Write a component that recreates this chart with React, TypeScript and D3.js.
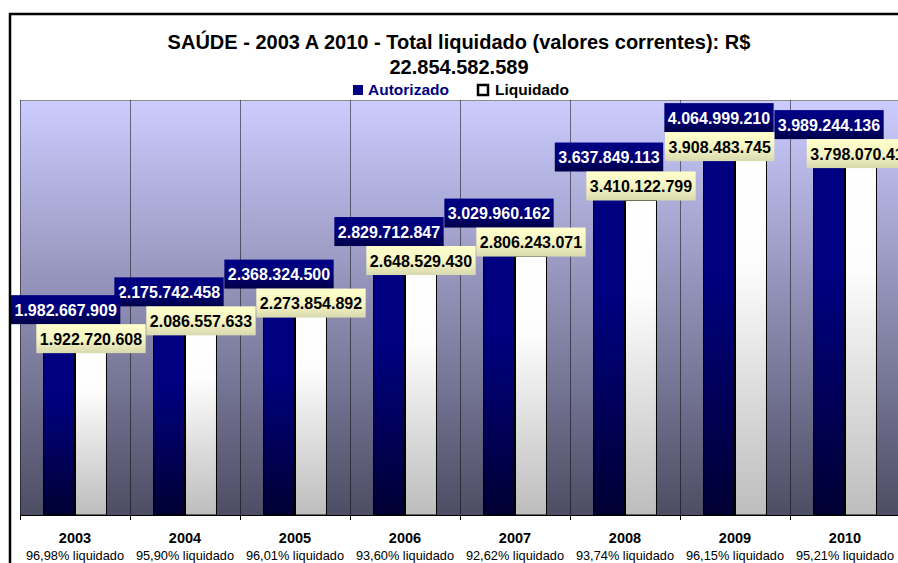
import React from "react";
import * as d3 from "d3";

const years = ["2003", "2004", "2005", "2006", "2007", "2008", "2009", "2010"];
const autorizado = [1982667909, 2175742458, 2368324500, 2829712847, 3029960162, 3637849113, 4064999210, 3989244136];
const liquidado = [1922720608, 2086557633, 2273854892, 2648529430, 2806243071, 3410122799, 3908483745, 3798070411];
const pctLabels = [
  "96,98% liquidado", "95,90% liquidado", "96,01% liquidado", "93,60% liquidado",
  "92,62% liquidado", "93,74% liquidado", "96,15% liquidado", "95,21% liquidado",
];
const seriesNames = ["Autorizado", "Liquidado"];
const titleLines = ["SAÚDE - 2003 A 2010 - Total liquidado (valores correntes): R$", "22.854.582.589"];
const yMax = 4500000000;

const W = 898;
const H = 563;
const FONT = "'Liberation Sans', Arial, Helvetica, sans-serif";
const plot = { left: 20, right: 900, top: 100, bottom: 515 };

const fmt = d3.formatLocale({ decimal: ",", thousands: ".", grouping: [3], currency: ["R$", ""] }).format(",d");

function textWidth(s: string, font: string): number {
  const c = document.createElement("canvas").getContext("2d");
  if (!c) return s.length * 8;
  c.font = font;
  return c.measureText(s).width;
}

export default function App() {
  const x0 = d3.scaleBand<string>().domain(years).range([plot.left, plot.right]).paddingInner(0).paddingOuter(0);
  const x1 = d3.scaleBand<string>().domain(seriesNames).range([0, x0.bandwidth()]).paddingInner(0).paddingOuter(0.72);
  const y = d3.scaleLinear().domain([0, yMax]).range([plot.bottom, plot.top]);

  const labelFont = `bold 16px ${FONT}`;
  const boxH = 29;
  const padX = 3.5;

  type Box = { x: number; y: number; w: number; text: string; kind: number };
  const boxes: Box[][] = years.map((yr, i) => {
    const tA = fmt(autorizado[i]);
    const tL = fmt(liquidado[i]);
    const wA = textWidth(tA, labelFont) + padX * 2;
    const wL = textWidth(tL, labelFont) + padX * 2;
    const cxA = (x0(yr) as number) + (x1("Autorizado") as number) + x1.bandwidth() / 2;
    const cxL = (x0(yr) as number) + (x1("Liquidado") as number) + x1.bandwidth() / 2;
    // label pair stacked just above the taller bar
    const lTop = y(autorizado[i]) - 8;
    const aTop = lTop - boxH;
    return [
      { x: Math.max(11, cxA - wA / 2), y: aTop, w: wA, text: tA, kind: 0 },
      { x: cxL - wL / 2, y: lTop, w: wL, text: tL, kind: 1 },
    ];
  });
  // collision avoidance: shift liquidado label left if it hits next category's autorizado label
  for (let i = 0; i < boxes.length - 1; i++) {
    const b = boxes[i][1];
    const n = boxes[i + 1][0];
    const vOverlap = b.y < n.y + boxH && n.y < b.y + boxH;
    if (vOverlap && b.x + b.w > n.x) b.x = n.x - b.w;
  }

  const boundaries = years.map((yr) => x0(yr) as number).concat([plot.right]);

  return (
    <svg width={W} height={H} style={{ position: "absolute", left: 0, top: 0 }} fontFamily={FONT}>
      <defs>
        <linearGradient id="plotBg" x1="0" y1="0" x2="0" y2="1">
          <stop offset="0" stopColor="#ccccff" />
          <stop offset="1" stopColor="#4d4d64" />
        </linearGradient>
        <linearGradient id="barA" x1="0" y1="0" x2="0" y2="1">
          <stop offset="0" stopColor="#000080" />
          <stop offset="0.35" stopColor="#000080" />
          <stop offset="1" stopColor="#000033" />
        </linearGradient>
        <linearGradient id="barL" x1="0" y1="0" x2="0" y2="1">
          <stop offset="0" stopColor="#ffffff" />
          <stop offset="0.3" stopColor="#fdfdfd" />
          <stop offset="1" stopColor="#bdbdbd" />
        </linearGradient>
        <linearGradient id="lblA" x1="0" y1="0" x2="0" y2="1">
          <stop offset="0" stopColor="#000085" />
          <stop offset="0.5" stopColor="#000078" />
          <stop offset="1" stopColor="#00004a" />
        </linearGradient>
        <linearGradient id="lblL" x1="0" y1="0" x2="0" y2="1">
          <stop offset="0" stopColor="#ffffcc" />
          <stop offset="0.5" stopColor="#f6f6c4" />
          <stop offset="1" stopColor="#d9d9b0" />
        </linearGradient>
      </defs>

      {/* chart frame */}
      <rect x={0} y={0} width={W} height={H} fill="#ffffff" />
      <rect x={10} y={14} width={1000} height={700} fill="#ffffff" stroke="#000" strokeWidth={2.5} />

      {/* title */}
      <text x={459} y={49} textAnchor="middle" fontSize={20} fontWeight="bold" fill="#000">{titleLines[0]}</text>
      <text x={459} y={74} textAnchor="middle" fontSize={20} fontWeight="bold" fill="#000">{titleLines[1]}</text>

      {/* legend */}
      <rect x={353} y={85} width={10} height={10} fill="#000080" />
      <text x={368} y={95} fontSize={15.5} fontWeight="bold" fill="#000080">{seriesNames[0]}</text>
      <rect x={478} y={85} width={10} height={10} fill="#fff" stroke="#000" strokeWidth={2.5} />
      <text x={495} y={95} fontSize={15.5} fontWeight="bold" fill="#000">{seriesNames[1]}</text>

      {/* plot area */}
      <rect x={plot.left} y={plot.top} width={plot.right - plot.left} height={plot.bottom - plot.top} fill="url(#plotBg)" />
      <line x1={plot.left} x2={plot.right} y1={plot.top + 0.5} y2={plot.top + 0.5} stroke="#8c8c8c" strokeWidth={1} />
      {boundaries.map((bx, i) => (
        <line key={"g" + i} x1={bx + 0.5} x2={bx + 0.5} y1={plot.top} y2={plot.bottom} stroke="#000" strokeOpacity={0.5} strokeWidth={1} />
      ))}

      {/* bars */}
      {years.map((yr, i) => (
        <g key={"b" + yr} transform={`translate(${x0(yr)},0)`}>
          <rect x={(x1("Autorizado") as number) + 0.5} y={y(autorizado[i])} width={x1.bandwidth() - 1} height={plot.bottom - y(autorizado[i])} fill="url(#barA)" stroke="#000" strokeWidth={1} />
          <rect x={(x1("Liquidado") as number) + 0.5} y={y(liquidado[i])} width={x1.bandwidth() - 1} height={plot.bottom - y(liquidado[i])} fill="url(#barL)" stroke="#000" strokeWidth={1} />
        </g>
      ))}

      {/* x axis */}
      <line x1={plot.left} x2={plot.right} y1={plot.bottom + 0.5} y2={plot.bottom + 0.5} stroke="#000" strokeWidth={1} />
      {boundaries.map((bx, i) => (
        <line key={"t" + i} x1={bx + 0.5} x2={bx + 0.5} y1={plot.bottom} y2={plot.bottom + 5} stroke="#000" strokeWidth={1} />
      ))}
      {years.map((yr, i) => {
        const cx = (x0(yr) as number) + x0.bandwidth() / 2;
        return (
          <g key={"c" + yr}>
            <text x={cx} y={543} textAnchor="middle" fontSize={14.5} fontWeight="bold" fill="#000">{yr}</text>
            <text x={cx} y={560} textAnchor="middle" fontSize={12.8} fill="#000">{pctLabels[i]}</text>
          </g>
        );
      })}

      {/* data labels (drawn last category first so earlier labels stay on top) */}
      {boxes.slice().reverse().map((pair, ri) => (
        <g key={"l" + ri}>
          {pair.map((b) => (
            <g key={b.kind}>
              <rect x={b.x} y={b.y} width={b.w} height={boxH} fill={b.kind === 0 ? "url(#lblA)" : "url(#lblL)"} />
              <text x={b.x + b.w / 2} y={b.y + 20.5} textAnchor="middle" fontSize={16} fontWeight="bold" fill={b.kind === 0 ? "#ffffff" : "#000000"}>{b.text}</text>
            </g>
          ))}
        </g>
      ))}
    </svg>
  );
}
